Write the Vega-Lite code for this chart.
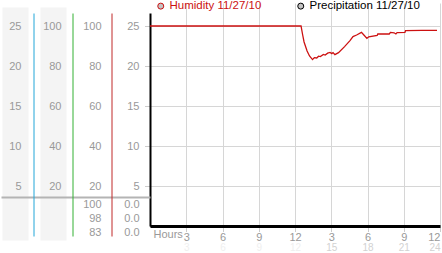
{
  "$schema": "https://vega.github.io/schema/vega-lite/v6.json",
  "width": 290,
  "height": 213,
  "autosize": {"type": "none"},
  "padding": {"left": 150, "top": 13, "right": 2, "bottom": 27},
  "config": {
    "view": {"stroke": null},
    "font": "Liberation Sans",
    "axis": {"labelFont": "Liberation Sans", "labelFontSize": 11, "labelColor": "#999999", "labelOverlap": false, "labelBound": false}
  },
  "data": {"values": [
    {"h": 0, "hum": 100, "p": 0}, {"h": 3, "hum": 100, "p": 0}, {"h": 6, "hum": 100, "p": 0}, {"h": 9, "hum": 100, "p": 0},
    {"h": 12, "hum": 100, "p": 0}, {"h": 12.5, "hum": 100, "p": 0}, {"h": 12.62, "hum": 96, "p": 0}, {"h": 12.75, "hum": 92, "p": 0},
    {"h": 13.0, "hum": 87.5, "p": 0}, {"h": 13.2, "hum": 85, "p": 0}, {"h": 13.45, "hum": 83.2, "p": 0}, {"h": 13.6, "hum": 84.2, "p": 0},
    {"h": 13.8, "hum": 84, "p": 0}, {"h": 13.95, "hum": 84.9, "p": 0}, {"h": 14.1, "hum": 84.7, "p": 0}, {"h": 14.35, "hum": 85.8, "p": 0},
    {"h": 14.5, "hum": 85.5, "p": 0}, {"h": 14.7, "hum": 86.4, "p": 0}, {"h": 14.9, "hum": 86.8, "p": 0}, {"h": 15.05, "hum": 86.2, "p": 0},
    {"h": 15.15, "hum": 86.7, "p": 0}, {"h": 15.3, "hum": 85.7, "p": 0}, {"h": 15.6, "hum": 86.7, "p": 0}, {"h": 16.1, "hum": 89.7, "p": 0},
    {"h": 16.55, "hum": 92.7, "p": 0}, {"h": 16.8, "hum": 94.7, "p": 0}, {"h": 17.1, "hum": 95.5, "p": 0}, {"h": 17.5, "hum": 96.8, "p": 0},
    {"h": 17.7, "hum": 95.5, "p": 0}, {"h": 17.95, "hum": 93.8, "p": 0}, {"h": 18.1, "hum": 94.6, "p": 0}, {"h": 18.8, "hum": 95.3, "p": 0},
    {"h": 18.85, "hum": 96, "p": 0}, {"h": 19.8, "hum": 96, "p": 0}, {"h": 19.9, "hum": 96.8, "p": 0}, {"h": 20.2, "hum": 96.6, "p": 0},
    {"h": 20.35, "hum": 96, "p": 0}, {"h": 20.45, "hum": 96.7, "p": 0}, {"h": 21.1, "hum": 96.8, "p": 0}, {"h": 21.15, "hum": 97.7, "p": 0},
    {"h": 22.5, "hum": 97.8, "p": 0}, {"h": 23.75, "hum": 97.8, "p": 0}
  ]},
  "resolve": {"scale": {"x": "independent", "y": "independent"}},
  "layer": [
    {
      "mark": {"type": "point", "opacity": 0},
      "encoding": {
        "x": {"field": "h", "type": "quantitative", "scale": {"domain": [0, 24], "nice": false}, "axis": null},
        "y": {"field": "p", "type": "quantitative", "scale": {"domain": [0, 26.625], "range": [227, -6], "nice": false},
          "axis": {"orient": "left", "offset": 135, "domain": true, "domainWidth": 26, "domainColor": "#f4f4f4", "labels": false, "ticks": false, "grid": false, "title": null, "zindex": 0}}
      }
    },
    {
      "mark": {"type": "point", "opacity": 0},
      "encoding": {
        "x": {"field": "h", "type": "quantitative", "scale": {"domain": [0, 24], "nice": false}, "axis": null},
        "y": {"field": "p", "type": "quantitative", "scale": {"domain": [0, 26.625], "range": [227, -6], "nice": false},
          "axis": {"orient": "left", "offset": 97, "domain": true, "domainWidth": 26, "domainColor": "#f4f4f4", "labels": false, "ticks": false, "grid": false, "title": null, "zindex": 0}}
      }
    },
    {
      "mark": {"type": "point", "opacity": 0},
      "encoding": {
        "x": {"field": "h", "type": "quantitative", "scale": {"domain": [0, 24], "nice": false}, "axis": null},
        "y": {"field": "p", "type": "quantitative", "scale": {"domain": [0, 26.625], "nice": false},
          "axis": {"orient": "left", "offset": 0, "values": [3.625], "domain": false, "grid": false, "ticks": true, "tickSize": 149, "tickWidth": 2, "tickColor": "#b4b4b4", "labels": false, "title": null, "zindex": 1}}
      }
    },
    {
      "mark": {"type": "point", "opacity": 0},
      "encoding": {
        "x": {"field": "h", "type": "quantitative", "scale": {"domain": [0, 24], "nice": false}, "axis": null},
        "y": {"field": "p", "type": "quantitative", "scale": {"domain": [-1.25, 26.625], "range": [223, 0], "nice": false, "zero": false},
          "axis": {"orient": "left", "offset": 116.5, "values": [5, 10, 15, 20, 25], "domain": true, "domainColor": "#22a6d8", "domainWidth": 1, "ticks": false, "grid": false, "title": null, "labelPadding": 12.5, "zindex": 2}}
      }
    },
    {
      "mark": {"type": "point", "opacity": 0},
      "encoding": {
        "x": {"field": "h", "type": "quantitative", "scale": {"domain": [0, 24], "nice": false}, "axis": null},
        "y": {"field": "hum", "type": "quantitative", "scale": {"domain": [-5, 106.5], "range": [223, 0], "nice": false, "zero": false},
          "axis": {"orient": "left", "offset": 77.5, "values": [20, 40, 60, 80, 100], "domain": true, "domainColor": "#33b033", "domainWidth": 1, "ticks": false, "grid": false, "title": null, "labelPadding": 11.5, "zindex": 2}}
      }
    },
    {
      "mark": {"type": "point", "opacity": 0},
      "encoding": {
        "x": {"field": "h", "type": "quantitative", "scale": {"domain": [0, 24], "nice": false},
          "axis": {"orient": "bottom", "values": [3, 6, 9, 12, 15, 18, 21, 24], "domain": false, "ticks": false, "grid": false, "title": null, "labelPadding": 16, "labelFontSize": 10,
            "labelColor": {"condition": {"test": "datum.value > 12", "value": "#d2d2d2"}, "value": "#efefef"}, "zindex": 1}},
        "y": {"field": "p", "type": "quantitative", "scale": {"domain": [0, 26.625], "nice": false}, "axis": null}
      }
    },
    {
      "mark": {"type": "line", "strokeWidth": 1},
      "encoding": {
        "x": {"field": "h", "type": "quantitative", "scale": {"domain": [0, 24], "nice": false}, "axis": null},
        "y": {"field": "p", "type": "quantitative", "scale": {"domain": [0, 26.625], "nice": false},
          "axis": {"orient": "left", "offset": 0, "values": [5, 10, 15, 20, 25, 2.75, 1, 0],
            "labelExpr": "datum.value < 4 ? '0.0' : datum.label",
            "labelOffset": {"condition": {"test": "datum.value < 0.5", "value": 6}, "value": 0},
            "domain": true, "domainColor": "#000000", "domainWidth": 2, "title": null,
            "grid": true, "gridColor": "#d6d6d6", "gridOpacity": {"condition": {"test": "datum.value >= 5", "value": 1}, "value": 0},
            "ticks": true, "tickSize": 5, "tickColor": "#999999", "tickDash": [1, 1],
            "tickOpacity": {"condition": {"test": "datum.value >= 5", "value": 1}, "value": 0},
            "labelPadding": 6, "zindex": 0}},
        "color": {"datum": "Precipitation 11/27/10", "type": "nominal",
          "scale": {"domain": ["Humidity 11/27/10", "Precipitation 11/27/10"], "range": ["#cc1111", "#000000"]}}
      }
    },
    {
      "mark": {"type": "line", "strokeWidth": 1.3},
      "encoding": {
        "x": {"field": "h", "type": "quantitative", "scale": {"domain": [0, 24], "nice": false},
          "axis": {"orient": "bottom", "values": [3, 6, 9, 12, 15, 18, 21, 24],
            "labelExpr": "'' + (datum.value > 12 ? datum.value - 12 : datum.value)",
            "domain": true, "domainColor": "#000000", "domainWidth": 3,
            "grid": true, "gridColor": "#d6d6d6",
            "ticks": true, "tickSize": 5, "tickColor": "#999999", "tickDash": [1, 1], "labelPadding": 0,
            "title": "Hours", "titleAnchor": "start", "titleAlign": "left", "titleBaseline": "top", "titleX": 3, "titleY": 2,
            "titleFontWeight": "normal", "titleFontSize": 11, "titleColor": "#999999", "titleFont": "Liberation Sans", "zindex": 0}},
        "y": {"field": "hum", "type": "quantitative", "scale": {"domain": [-5, 106.5], "range": [223, 0], "nice": false, "zero": false},
          "axis": {"orient": "left", "offset": 38.5, "values": [20, 40, 60, 80, 100, 11, 4, -3],
            "labelExpr": "datum.value == 11 ? '100' : datum.value == 4 ? '98' : datum.value == -3 ? '83' : datum.label",
            "domain": true, "domainColor": "#c02828", "domainWidth": 1, "ticks": false, "grid": false, "title": null, "labelPadding": 10.5, "zindex": 2}},
        "color": {"datum": "Humidity 11/27/10", "type": "nominal",
          "legend": {"orient": "top", "direction": "horizontal", "title": null, "offset": 1, "padding": 0,
            "symbolType": "circle", "symbolSize": 36, "symbolOffset": 5, "labelFontSize": 11.5, "labelFont": "Liberation Sans", "labelOffset": 3,
            "columnPadding": 28,
            "encode": {
              "symbols": {"update": {"fill": {"value": "#c4c4c4"}, "stroke": {"value": "#9a9a9a"}, "strokeWidth": {"value": 1}}},
              "labels": {"update": {"fill": [{"test": "datum.value == 'Humidity 11/27/10'", "value": "#cc1111"}, {"value": "#000000"}]}}
            }}}
      }
    }
  ]
}
